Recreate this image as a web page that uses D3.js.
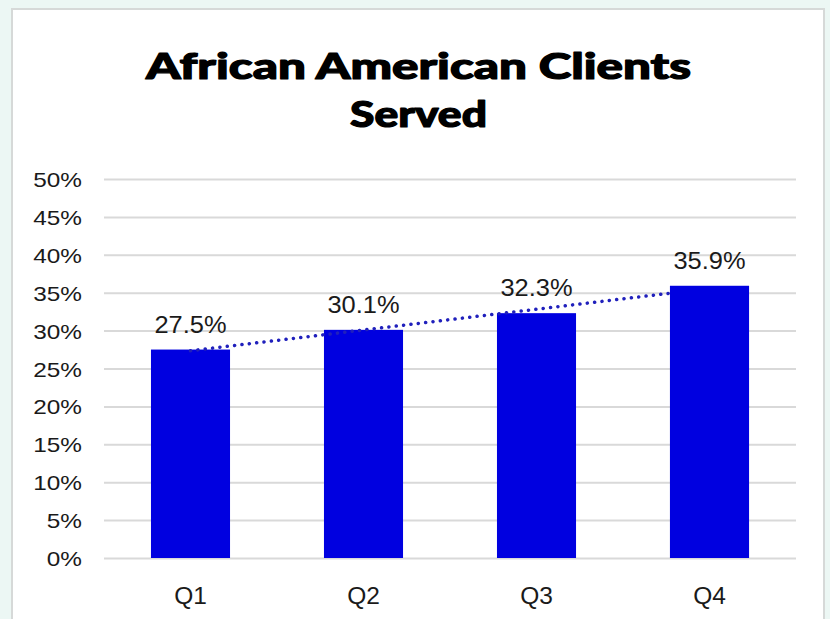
<!DOCTYPE html>
<html>
<head>
<meta charset="utf-8">
<script src="https://cdn.jsdelivr.net/npm/d3@7"></script>
<style>
  html, body { margin: 0; padding: 0; background: #ecf7f4; }
  svg { display: block; }
</style>
</head>
<body>
<svg id="chart" width="830" height="619"></svg>
<script>
// Share of African American clients served, by quarter
const categories = ["Q1", "Q2", "Q3", "Q4"];
const values = [0.275, 0.301, 0.323, 0.359];
const valueLabels = ["27.5%", "30.1%", "32.3%", "35.9%"];
const tickValues = [0, 0.05, 0.10, 0.15, 0.20, 0.25, 0.30, 0.35, 0.40, 0.45, 0.50];
const titleLines = ["African American Clients", "Served"];

const svg = d3.select("#chart");

// card behind the chart
svg.append("rect")
  .attr("x", 12).attr("y", 9)
  .attr("width", 812).attr("height", 630)
  .attr("fill", "#ffffff")
  .attr("stroke", "#d6d9d8")
  .attr("stroke-width", 2);

const x = d3.scaleBand()
  .domain(categories)
  .range([104, 796])
  .paddingInner(0.543)
  .paddingOuter(0.2715);

const y = d3.scaleLinear()
  .domain([0, 0.5])
  .range([558, 179]);

// title
const title = svg.append("g");
const titleWidths = [545, 137];
title.selectAll("text")
  .data(titleLines)
  .join("text")
  .attr("x", 418.5)
  .attr("y", (d, i) => 79 + i * 47.5)
  .attr("text-anchor", "middle")
  .attr("font-family", "'Arial Black', Lato, 'DejaVu Sans', sans-serif")
  .attr("font-weight", 900)
  .attr("font-size", 36)
  .attr("textLength", (d, i) => titleWidths[i])
  .attr("lengthAdjust", "spacingAndGlyphs")
  .attr("fill", "#000")
  .attr("stroke", "#000")
  .attr("stroke-width", 1.2)
  .attr("stroke-linejoin", "round")
  .text(d => d);

// gridlines
const yAxis = d3.axisLeft(y)
  .tickValues(tickValues)
  .tickSize(-(796 - 104))
  .tickFormat(d3.format(".0%"));

const gy = svg.append("g")
  .attr("transform", "translate(104,0)")
  .call(yAxis);
gy.select(".domain").remove();
gy.selectAll(".tick line")
  .attr("stroke", "#d9d9d9")
  .attr("stroke-width", 2);
gy.selectAll(".tick text")
  .attr("x", 0)
  .attr("dy", null)
  .attr("font-family", "'Liberation Sans', Arial, sans-serif")
  .attr("font-size", 21)
  .attr("fill", "#1a1a1a")
  .attr("text-anchor", "end")
  .attr("transform", "translate(-22,7.5) scale(1.16,1)");

// bars
svg.append("g")
  .selectAll("rect")
  .data(values)
  .join("rect")
  .attr("x", (d, i) => x(categories[i]))
  .attr("y", d => y(d))
  .attr("width", x.bandwidth())
  .attr("height", d => y(0) - y(d))
  .attr("fill", "#0000e0");

// linear trendline (least squares over the quarter index)
const n = values.length;
const idx = d3.range(n);
const mx = d3.mean(idx), my = d3.mean(values);
const slope = d3.sum(idx, i => (i - mx) * (values[i] - my)) / d3.sum(idx, i => (i - mx) ** 2);
const intercept = my - slope * mx;
const cx = c => x(c) + x.bandwidth() / 2;

svg.append("line")
  .attr("x1", cx(categories[0]))
  .attr("y1", y(intercept))
  .attr("x2", cx(categories[n - 1]))
  .attr("y2", y(intercept + slope * (n - 1)))
  .attr("stroke", "#2020bc")
  .attr("stroke-width", 3.5)
  .attr("stroke-linecap", "round")
  .attr("stroke-dasharray", "0.1 7.3");

// redraw last bar above the trendline end
svg.append("rect")
  .attr("x", x(categories[n - 1]))
  .attr("y", y(values[n - 1]))
  .attr("width", x.bandwidth())
  .attr("height", y(0) - y(values[n - 1]))
  .attr("fill", "#0000e0");

// value labels
svg.append("g")
  .selectAll("text")
  .data(values)
  .join("text")
  .attr("transform", (d, i) => `translate(${cx(categories[i])},${y(d) - 17}) scale(1.06,1)`)
  .attr("text-anchor", "middle")
  .attr("font-family", "'Liberation Sans', Arial, sans-serif")
  .attr("font-size", 24)
  .attr("fill", "#1a1a1a")
  .text((d, i) => valueLabels[i]);

// category axis labels
svg.append("g")
  .selectAll("text")
  .data(categories)
  .join("text")
  .attr("x", d => cx(d))
  .attr("y", 603.5)
  .attr("text-anchor", "middle")
  .attr("font-family", "'Liberation Sans', Arial, sans-serif")
  .attr("font-size", 24.5)
  .attr("fill", "#1a1a1a")
  .text(d => d);
</script>
</body>
</html>
